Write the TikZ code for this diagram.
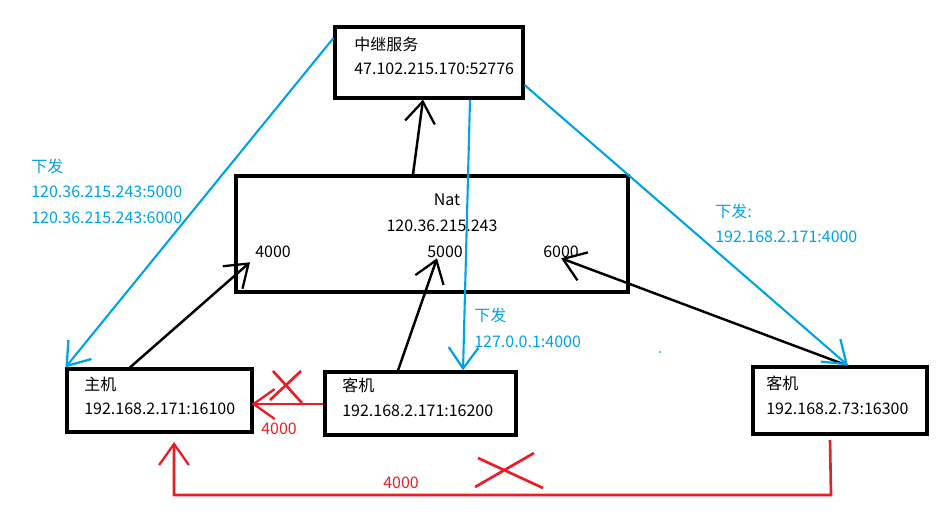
\documentclass[tikz,border=0pt]{standalone}
\usepackage{fontspec}
\newfontfamily\cjk{Noto Sans CJK SC}
\usetikzlibrary{arrows.meta}
\definecolor{paintblue}{RGB}{0,162,232}
\definecolor{paintred}{RGB}{237,28,36}
\tikzset{
  box/.style={draw,line width=1.8pt,inner sep=0pt},
  txt/.style={font=\cjk\fontsize{9.1}{11}\selectfont,inner sep=0pt,anchor=west},
  bluetxt/.style={txt,text=paintblue},
  redtxt/.style={txt,text=paintred},
  barb/.style={-{Straight Barb[length=12pt,width=17pt,line width=1.3pt]}},
  blackline/.style={barb,line width=1.4pt},
  blueline/.style={barb,line width=1.2pt,paintblue},
  redline/.style={barb,line width=1.5pt,paintred}
}
\begin{document}
\begin{tikzpicture}[x=0.02cm,y=-0.02cm]
  \useasboundingbox (0,0) rectangle (952,511);
  \draw
    (429,62.5) node[box,minimum width=3.76cm,minimum height=1.42cm] (relay){}
    (432,234) node[box,minimum width=7.84cm,minimum height=2.32cm] (nat){}
    (159.5,400.5) node[box,minimum width=3.70cm,minimum height=1.26cm] (host){}
    (420.5,403.5) node[box,minimum width=3.82cm,minimum height=1.26cm] (guestA){}
    (840,400.5) node[box,minimum width=3.48cm,minimum height=1.34cm] (guestB){};
  \draw
    (354,44) node[txt] (relayname){中继服务}
    (354,69) node[txt] (relayip){47.102.215.170:52776}
    (447,200) node[txt,anchor=center] (natname){Nat}
    (442,226) node[txt,anchor=center] (natip){120.36.215.243}
    (255,252) node[txt] (p4000){4000}
    (427,252) node[txt] (p5000){5000}
    (543,252) node[txt] (p6000){6000}
    (84,384) node[txt] (hostname){主机}
    (84,409) node[txt] (hostip){192.168.2.171:16100}
    (342,385) node[txt] (guestAname){客机}
    (342,411) node[txt] (guestAip){192.168.2.171:16200}
    (766,383) node[txt] (guestBname){客机}
    (766,409) node[txt] (guestBip){192.168.2.73:16300};
  \draw
    (31,166) node[bluetxt] (sendA){下发}
    (31,192) node[bluetxt] (sendAip){120.36.215.243:5000}
    (31,218) node[bluetxt] (sendAipb){120.36.215.243:6000}
    (715,211) node[bluetxt] (sendB){下发:}
    (715,237) node[bluetxt] (sendBip){192.168.2.171:4000}
    (474,315) node[bluetxt] (sendC){下发}
    (474,342) node[bluetxt] (sendCip){127.0.0.1:4000}
    (261,429) node[redtxt] (redportA){4000}
    (383,483) node[redtxt] (redportB){4000};
  \begin{scope}[blackline]
    \draw (nat.north -| 413,0) to (relay.south -| 423,0);
    \draw (host.north -| 130,0) to ([shift={(-5,4)}]p4000.south west);
    \draw (guestA.north -| 398,0) to (p5000.south -| 437,0);
    \draw (guestB.north -| 847,0) to (p6000.south);
  \end{scope}
  \begin{scope}[blueline]
    \draw (relay.west |- 0,38) to (host.north west);
    \draw (relay.south -| 470,0) to (guestA.north -| 463,0);
    \draw (relay.east |- 0,85) to (guestB.north -| 848,0);
  \end{scope}
  \fill[paintblue] (660,352) circle (0.02cm);
  \begin{scope}[redline]
    \draw (guestA.west |- 0,404) to ([xshift=-0.04cm]host.east |- 0,404);
    \coordinate (redstart) at (830,440);
    \coordinate (redend) at (174,442);
    \draw (redstart) -- (831,495) -| (redend);
  \end{scope}
  \begin{scope}[line width=1.5pt,paintred]
    \draw (273,371) -- (302,403) (301,371) -- (270,400);
    \draw (475,487) -- (534,453) (478,458) -- (543,488);
  \end{scope}
\end{tikzpicture}
\end{document}
